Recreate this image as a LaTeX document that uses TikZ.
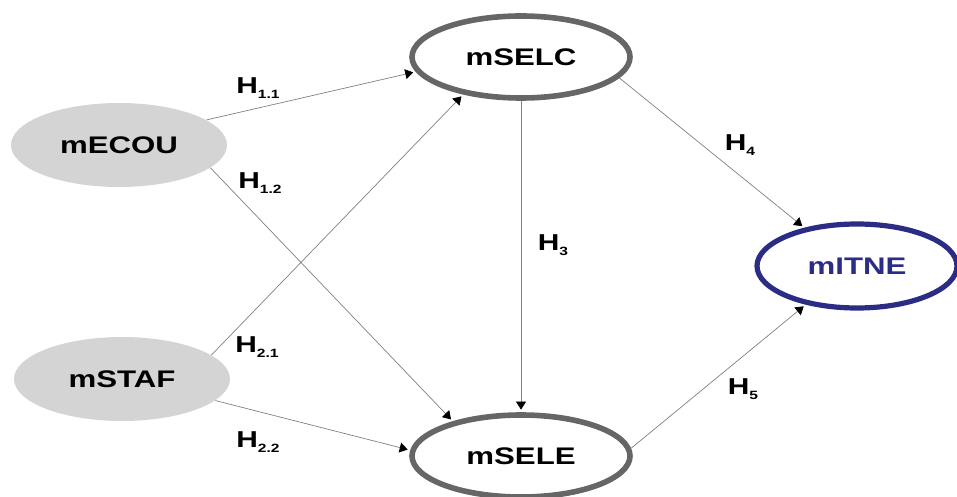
\documentclass[tikz,border=0pt]{standalone}
\usepackage{fontspec}
\setsansfont{Liberation Sans}[FakeStretch=1.3]
\usepackage{tikz}
\usetikzlibrary{shapes.geometric,arrows.meta}
\definecolor{ringgray}{HTML}{666666}
\definecolor{fillgray}{HTML}{D4D4D4}
\definecolor{navy}{HTML}{2B2D84}
\newcommand\hsub[1]{\raisebox{-2.2pt}{\fontsize{6}{7}\selectfont #1}}

\begin{document}
\begin{tikzpicture}[x=0.5pt, y=-0.5pt,
        nodes={ellipse, font=\sffamily\bfseries\fontsize{12}{14}\selectfont},
        exo/.style={fill=fillgray, minimum width=108pt, minimum height=42pt},
        endo/.style={draw=ringgray, line width=2.8pt, minimum width=109pt, minimum height=41pt},
        goal/.style={draw=navy, text=navy, line width=2.6pt, minimum width=100pt, minimum height=42pt},
        hyp/.style={draw=black!50, line width=0.35pt, shorten >=1.3pt,
                -{Triangle[length=4pt, width=5pt, color=black]}},
        hlab/.style={shape=rectangle, inner sep=0pt,
                font=\sffamily\bfseries\fontsize{11.5}{13}\selectfont}]
        \useasboundingbox (0,0) rectangle (957,497);
        \node[exo] (ecou) at (119,145) {mECOU};
        \node[exo] (staf) at (122,379) {mSTAF};
        \node[endo] (selc) at (521,57) {mSELC};
        \node[endo] (sele) at (521,456) {mSELE};
        \node[goal] (itne) at (857,266) {mITNE};

        \draw[hyp] (ecou.16) -- (selc.188);
        \draw[hyp] (ecou.-14) -- (sele.153);
        \draw[hyp] (staf.15) -- (selc.213);
        \draw[hyp] (staf.-13) -- (sele.177);
        \draw[hyp] (selc.270) -- (sele.90);
        \draw[hyp] (selc.-12) -- (itne.144);
        \draw[hyp] (sele.4) -- (itne.217);

        \node[hlab] (h11) at (258,88) {H\hsub{1.1}};
        \node[hlab] (h12) at (260,183) {H\hsub{1.2}};
        \node[hlab] (h21) at (257,347) {H\hsub{2.1}};
        \node[hlab] (h22) at (258,442) {H\hsub{2.2}};
        \node[hlab] (h3) at (553,245) {H\hsub{3}};
        \node[hlab] (h4) at (740,145) {H\hsub{4}};
        \node[hlab] (h5) at (743,389) {H\hsub{5}};
\end{tikzpicture}
\end{document}
